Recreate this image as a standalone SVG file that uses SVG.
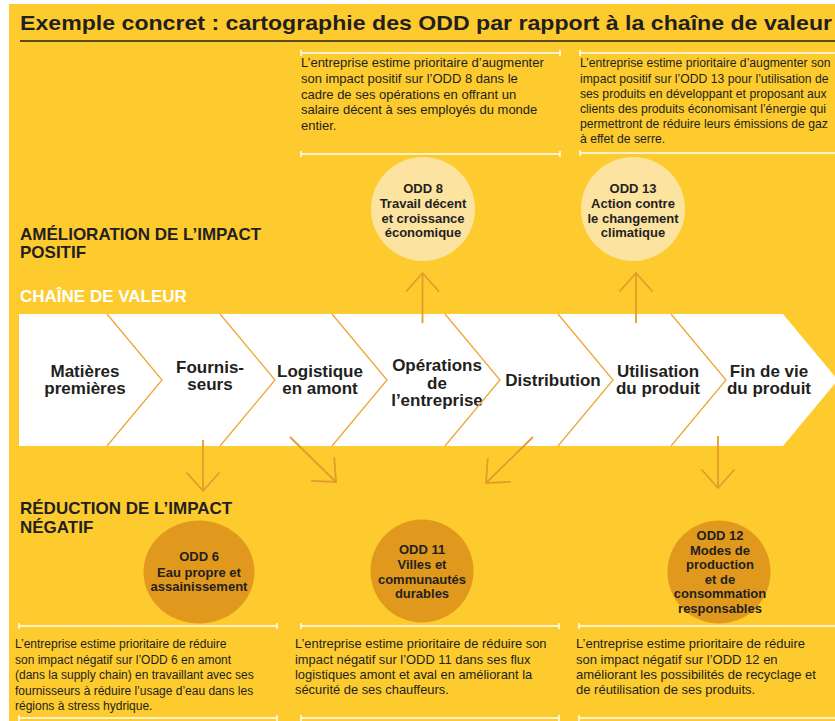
<svg xmlns="http://www.w3.org/2000/svg" width="835" height="721" viewBox="0 0 835 721">
<defs>
<style>
text{font-family:"Liberation Sans",Arial,sans-serif;fill:#231F20}
.title{font-size:21px;font-weight:bold}
.head{font-size:17px;font-weight:bold}
.chain{font-size:17px;font-weight:bold;fill:#FFFFFF}
.lab{font-size:17px;font-weight:bold;text-anchor:middle}
.odd{font-size:13px;font-weight:bold;text-anchor:middle}
.t13{font-size:13px}
.t12{font-size:12px}
.rule{stroke:#FFFFFF;stroke-width:1.5;fill:none}
.chev{stroke:#EFA73A;stroke-width:1.3;fill:none}
.arr{stroke:#E39C2C;stroke-width:1.8;fill:none;marker-end:url(#head)}
.light{fill:#FDE3A0}
.dark{fill:#E0991D}
</style>
<marker id="head" markerUnits="userSpaceOnUse" markerWidth="40" markerHeight="40" viewBox="-22 -20 24 40" refX="0" refY="0" orient="auto">
<path d="M-18,-16 L0,0 L-18,16" stroke="#E39C2C" stroke-width="1.8" fill="none" stroke-linecap="round"/>
</marker>
</defs>

<rect x="0" y="0" width="835" height="721" fill="#FFFFFF"/>
<rect x="9" y="4" width="826" height="717" fill="#FDCB2E"/>

<text class="title" x="20" y="30" textLength="812" lengthAdjust="spacingAndGlyphs">Exemple concret : cartographie des ODD par rapport à la chaîne de valeur</text>
<line x1="20" y1="41" x2="835" y2="41" stroke="#231F20" stroke-width="1.5"/>

<!-- top text boxes -->
<g id="box-odd8">
<path class="rule" d="M301,53 H560 M301,50 V56 M560,50 V56 M301,154 H560 M301,151 V157 M560,151 V157"/>
<text class="t13" x="301" y="67">L’entreprise estime prioritaire d’augmenter</text>
<text class="t13" x="301" y="83">son impact positif sur l’ODD 8 dans le</text>
<text class="t13" x="301" y="99">cadre de ses opérations en offrant un</text>
<text class="t13" x="301" y="114">salaire décent à ses employés du monde</text>
<text class="t13" x="301" y="130">entier.</text>
</g>
<g id="box-odd13">
<path class="rule" d="M580,53 H835 M580,50 V56 M580,153 H835 M580,150 V156"/>
<text class="t12" x="580" y="67" style="font-size:12.2px">L’entreprise estime prioritaire d’augmenter son</text>
<text class="t12" x="580" y="82.5" style="font-size:12.2px">impact positif sur l’ODD 13 pour l’utilisation de</text>
<text class="t12" x="580" y="98" style="font-size:12.2px">ses produits en développant et proposant aux</text>
<text class="t12" x="580" y="113" style="font-size:12.2px">clients des produits économisant l’énergie qui</text>
<text class="t12" x="580" y="128" style="font-size:12.2px">permettront de réduire leurs émissions de gaz</text>
<text class="t12" x="580" y="143" style="font-size:12.2px">à effet de serre.</text>
</g>

<!-- section headings -->
<text class="head" x="20" y="239.5">AMÉLIORATION DE L’IMPACT</text>
<text class="head" x="20" y="257.5">POSITIF</text>
<text class="chain" x="20" y="302">CHAÎNE DE VALEUR</text>
<text class="head" x="20" y="514">RÉDUCTION DE L’IMPACT</text>
<text class="head" x="20" y="533">NÉGATIF</text>

<!-- value chain -->
<g id="value-chain">
<polygon points="19,314 783,314 838,380 783,446 19,446" fill="#FFFFFF"/>
<g id="step-matieres">
<text class="lab" x="85" y="377">Matières</text>
<text class="lab" x="85" y="394">premières</text>
</g>
<g id="step-fournisseurs">
<polyline class="chev" points="107,314 162,380 107,446"/>
<text class="lab" x="210" y="373">Fournis-</text>
<text class="lab" x="210" y="390">seurs</text>
</g>
<g id="step-logistique">
<polyline class="chev" points="220,314 275,380 220,446"/>
<text class="lab" x="320" y="377">Logistique</text>
<text class="lab" x="320" y="394">en amont</text>
</g>
<g id="step-operations">
<polyline class="chev" points="332,314 387,380 332,446"/>
<text class="lab" x="437" y="371">Opérations</text>
<text class="lab" x="437" y="388.5">de</text>
<text class="lab" x="437" y="406">l’entreprise</text>
</g>
<g id="step-distribution">
<polyline class="chev" points="445,314 500,380 445,446"/>
<text class="lab" x="553" y="386">Distribution</text>
</g>
<g id="step-utilisation">
<polyline class="chev" points="558,314 613,380 558,446"/>
<text class="lab" x="658" y="377">Utilisation</text>
<text class="lab" x="658" y="394">du produit</text>
</g>
<g id="step-findevie">
<polyline class="chev" points="671,314 726,380 671,446"/>
<text class="lab" x="769" y="377">Fin de vie</text>
<text class="lab" x="769" y="394">du produit</text>
</g>
</g>

<!-- ODD circles -->
<g id="odd8">
<circle class="light" cx="423" cy="209" r="52"/>
<text class="odd" x="423" y="193">ODD 8</text>
<text class="odd" x="423" y="208">Travail décent</text>
<text class="odd" x="423" y="222.5">et croissance</text>
<text class="odd" x="423" y="237">économique</text>
</g>
<g id="odd13">
<circle class="light" cx="633" cy="209" r="52"/>
<text class="odd" x="633" y="193">ODD 13</text>
<text class="odd" x="633" y="208">Action contre</text>
<text class="odd" x="633" y="222.5">le changement</text>
<text class="odd" x="633" y="237">climatique</text>
</g>
<g id="odd6">
<ellipse class="dark" cx="199" cy="572" rx="55.5" ry="51.5"/>
<text class="odd" x="199" y="561">ODD 6</text>
<text class="odd" x="199" y="576.5">Eau propre et</text>
<text class="odd" x="199" y="591">assainissement</text>
</g>
<g id="odd11">
<circle class="dark" cx="422" cy="571" r="51.5"/>
<text class="odd" x="422" y="554">ODD 11</text>
<text class="odd" x="422" y="569">Villes et</text>
<text class="odd" x="422" y="583.5">communautés</text>
<text class="odd" x="422" y="598">durables</text>
</g>
<g id="odd12">
<circle class="dark" cx="719" cy="572" r="51.5"/>
<text class="odd" x="720" y="540">ODD 12</text>
<text class="odd" x="720" y="554.5">Modes de</text>
<text class="odd" x="720" y="569">production</text>
<text class="odd" x="720" y="583.5">et de</text>
<text class="odd" x="720" y="598">consommation</text>
<text class="odd" x="720" y="612.5">responsables</text>
</g>

<!-- connectors -->
<g id="connectors">
<path class="arr" d="M422.5,323 L422.5,273"/>
<path class="arr" d="M636,323 L636,273"/>
<path class="arr" d="M203,440 L203,491"/>
<path class="arr" d="M290,437 L336,482"/>
<path class="arr" d="M533,437 L486,483"/>
<path class="arr" d="M718,436 L718,488"/>
</g>

<!-- bottom text boxes -->
<g id="box-odd6">
<path class="rule" d="M19,626 H277 M19,623 V629 M277,623 V629 M19,718 H277 M19,715 V721 M277,715 V721"/>
<text class="t12" x="15" y="648">L’entreprise estime prioritaire de réduire</text>
<text class="t12" x="15" y="664">son impact négatif sur l’ODD 6 en amont</text>
<text class="t12" x="15" y="679">(dans la supply chain) en travaillant avec ses</text>
<text class="t12" x="15" y="694.5">fournisseurs à réduire l’usage d’eau dans les</text>
<text class="t12" x="15" y="710">régions à stress hydrique.</text>
</g>
<g id="box-odd11">
<path class="rule" d="M301,626 H559 M301,623 V629 M559,623 V629 M301,718 H559 M301,715 V721 M559,715 V721"/>
<text class="t13" x="295" y="648" style="font-size:12.9px">L’entreprise estime prioritaire de réduire son</text>
<text class="t13" x="295" y="664" style="font-size:12.9px">impact négatif sur l’ODD 11 dans ses flux</text>
<text class="t13" x="295" y="679" style="font-size:12.9px">logistiques amont et aval en améliorant la</text>
<text class="t13" x="295" y="694" style="font-size:12.9px">sécurité de ses chauffeurs.</text>
</g>
<g id="box-odd12">
<path class="rule" d="M579,626 H835 M579,623 V629 M579,718 H835 M579,715 V721"/>
<text class="t13" x="576" y="648">L’entreprise estime prioritaire de réduire</text>
<text class="t13" x="576" y="664">son impact négatif sur l’ODD 12 en</text>
<text class="t13" x="576" y="679">améliorant les possibilités de recyclage et</text>
<text class="t13" x="576" y="694">de réutilisation de ses produits.</text>
</g>
</svg>
